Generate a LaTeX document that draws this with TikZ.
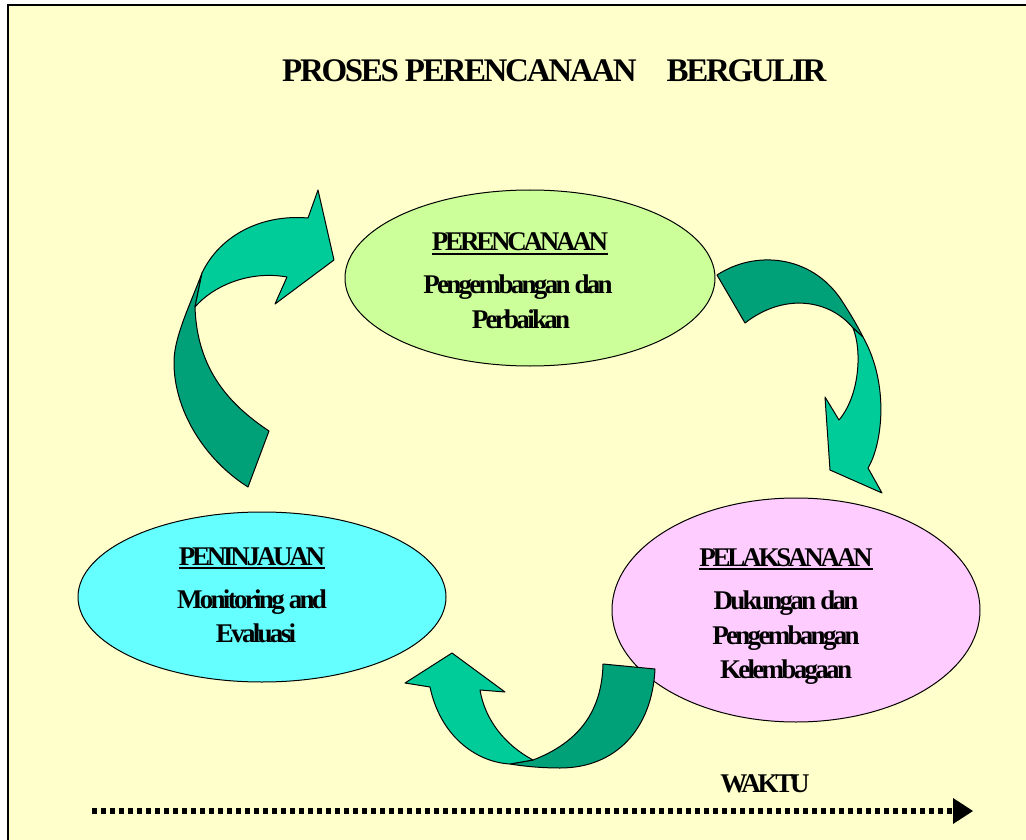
\documentclass[tikz,border=0pt]{standalone}
\usepackage{fontspec}
\newfontfamily\tnr[LetterSpace=-10]{Liberation Serif}
\newfontfamily\tnrhead[LetterSpace=-12]{Liberation Serif}
\newfontfamily\tnrtitle[LetterSpace=-7]{Liberation Serif}
\usetikzlibrary{shapes.geometric}

\definecolor{paper}{HTML}{FFFFCC}
\definecolor{ribbonlight}{HTML}{00CC99}
\definecolor{ribbondark}{HTML}{00A078}
\definecolor{plangreen}{HTML}{CCFF99}
\definecolor{reviewcyan}{HTML}{66FFFF}
\definecolor{actpink}{HTML}{FFCCFF}

\tikzset{
  phase/.style={draw, line width=1pt, ellipse, inner sep=0pt},
  body/.style={font=\tnr\bfseries\fontsize{27}{29}\selectfont, inner sep=0pt, anchor=base},
  head/.style={body, font=\tnrhead\bfseries\fontsize{27}{29}\selectfont},
  ribbon/.style={draw, line width=1pt, line join=round},
}

\begin{document}
\begin{tikzpicture}[x=1pt, y=-1pt]
	\useasboundingbox (0, 0) rectangle (1026, 840);
	\fill[white] (0, 0) rectangle (1026, 840);
	\fill[paper] (7.5, 5) rectangle (1026, 840);
	\draw[line width=2pt] (7.5, 840) -- (7.5, 5) -- (1026, 5);

	% title
	\node[font=\tnrtitle\bfseries\fontsize{33}{35}\selectfont, inner sep=0pt, anchor=base west] (title) at (282, 82) {PROSES PERENCANAAN\hspace{30pt}BERGULIR};

	% the three phases
	\node[phase, fill=plangreen, minimum width=370pt, minimum height=176pt] (plan) at (530, 278) {};
	\node[phase, fill=reviewcyan, minimum width=368pt, minimum height=170pt] (review) at (262, 597) {};
	\node[phase, fill=actpink, minimum width=368pt, minimum height=224pt] (act) at (796, 610) {};

	% ribbon: review -> plan
	\draw[ribbon, fill=ribbondark] (202, 273) .. controls (190, 305) and (175, 335) .. (174, 360)
		.. controls (173, 410) and (205, 460) .. (248, 487) -- (269, 431)
		.. controls (230, 405) and (197, 370) .. (195, 307) -- cycle;
	\draw[ribbon, fill=ribbonlight] (195, 307) .. controls (212, 287) and (248, 270) .. (287, 277)
		-- (275, 304) -- (334, 260) -- (318, 190) -- (308, 218)
		.. controls (262, 214) and (220, 235) .. (202, 273) -- cycle;

	% ribbon: plan -> act
	\draw[ribbon, fill=ribbondark] (717, 275) .. controls (755, 250) and (810, 255) .. (840, 298)
		.. controls (848, 310) and (856, 323) .. (863, 337) -- (853, 328)
		.. controls (830, 300) and (785, 292) .. (745, 323) -- cycle;
	\draw[ribbon, fill=ribbonlight] (853, 328) .. controls (862, 350) and (860, 395) .. (839, 420)
		-- (825, 397) -- (830, 470) -- (882, 493) -- (868, 468)
		.. controls (882, 445) and (890, 385) .. (863, 337) -- cycle;

	% ribbon: act -> review
	\draw[ribbon, fill=ribbondark] (603, 664) -- (655, 669) .. controls (652, 730) and (615, 768) .. (560, 768)
		.. controls (540, 768) and (522, 766) .. (510, 764) -- (533, 760)
		.. controls (580, 742) and (602, 710) .. (603, 664) -- cycle;
	\draw[ribbon, fill=ribbonlight] (533, 760) .. controls (505, 745) and (485, 720) .. (480, 690)
		-- (505, 692) -- (452, 653) -- (405, 683) -- (430, 687)
		.. controls (440, 735) and (475, 762) .. (510, 764) -- cycle;

	% texts
	\node[head] (planhead) at (520, 251) {PERENCANAAN};
	\node[body] (planline1) at (518, 293) {Pengembangan dan};
	\node[body] (planline2) at (521, 328) {Perbaikan};

	\node[head] (reviewhead) at (252, 565) {PENINJAUAN};
	\node[body] (reviewline1) at (252, 608) {Monitoring and};
	\node[body] (reviewline2) at (256, 642) {Evaluasi};

	\node[head] (acthead) at (786, 566) {PELAKSANAAN};
	\node[body] (actline1) at (786, 609) {Dukungan dan};
	\node[body] (actline2) at (786, 644) {Pengembangan};
	\node[body] (actline3) at (786, 678) {Kelembagaan};

	\foreach \h in {planhead, reviewhead, acthead}
		\draw[line width=1.8pt] ([yshift=-3pt]\h.base west) -- ([yshift=-3pt]\h.base east);

	% time axis
	\node[head] (time) at (765, 792) {WAKTU};
	\coordinate (timestart) at (92, 811);
	\coordinate (timeend) at (953, 811);
	\draw[line width=6pt, dash pattern=on 5pt off 4pt] (timestart) -- (timeend);
	\fill (timeend) ++(0, -13) -- ++(20, 13) -- ++(-20, 13) -- cycle;
\end{tikzpicture}
\end{document}
